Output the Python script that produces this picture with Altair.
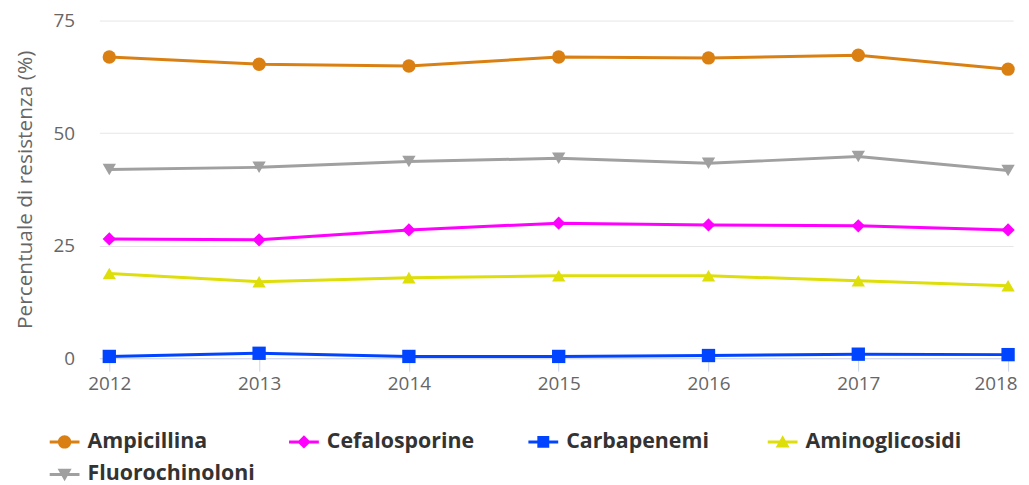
import altair as alt
import pandas as pd

years = [2012, 2013, 2014, 2015, 2016, 2017, 2018]
series = ["Ampicillina", "Cefalosporine", "Carbapenemi", "Aminoglicosidi", "Fluorochinoloni"]
ampicillina = [66.9, 65.3, 64.9, 66.9, 66.7, 67.3, 64.2]
cefalosporine = [26.5, 26.3, 28.5, 30.0, 29.6, 29.4, 28.5]
carbapenemi = [0.4, 1.1, 0.4, 0.4, 0.6, 0.9, 0.8]
aminoglicosidi = [18.8, 17.0, 17.9, 18.3, 18.3, 17.2, 16.1]
fluorochinoloni = [41.9, 42.4, 43.7, 44.4, 43.3, 44.8, 41.7]
colors = ["#da8012", "#ff00ff", "#0044ff", "#dede0a", "#a0a0a0"]
shapes = ["circle", "diamond", "square", "triangle-up", "triangle-down"]
legend_shapes = [
    "M-1,-0.1H1V0.1H-1Z M-0.45,0 A0.45,0.45 0 1,1 0.45,0 A0.45,0.45 0 1,1 -0.45,0Z",
    "M-1,-0.1H1V0.1H-1Z M0,-0.45 L0.45,0 L0,0.45 L-0.45,0Z",
    "M-1,-0.1H1V0.1H-1Z M-0.4,-0.4H0.4V0.4H-0.4Z",
    "M-1,-0.1H1V0.1H-1Z M0,-0.45 L0.47,0.38 L-0.47,0.38Z",
    "M-1,-0.1H1V0.1H-1Z M-0.47,-0.38H0.47 L0,0.45Z",
]

values = [ampicillina, cefalosporine, carbapenemi, aminoglicosidi, fluorochinoloni]
rows = []
for name, vals in zip(series, values):
    for y, v in zip(years, vals):
        rows.append({"Anno": y, "Valore": v, "Serie": name})
df = pd.DataFrame(rows)

x_enc = alt.X(
    "Anno:Q",
    scale=alt.Scale(domain=[2011.9337, 2018.0332], nice=False, zero=False),
    axis=alt.Axis(
        values=years, format="d", title=None, grid=False,
        domainColor="#ccd6eb", domainWidth=1, tickColor="#ccd6eb", tickSize=13,
        labelFont="Open Sans", labelFontSize=19, labelColor="#666666", labelPadding=3,
        labelFlush=7, labelFlushOffset=9,
    ),
)
y_enc = alt.Y(
    "Valore:Q",
    scale=alt.Scale(domain=[0, 75], nice=False),
    axis=alt.Axis(
        values=[0, 25, 50, 75], title="Percentuale di resistenza (%)",
        domain=False, ticks=False, gridColor="#e6e6e6", gridWidth=1,
        labelFont="Open Sans", labelFontSize=19, labelColor="#666666", labelPadding=25,
        titleFont="Open Sans", titleFontSize=21, titleFontWeight="normal",
        titleColor="#666666", titlePadding=18,
    ),
)
color_plain = alt.Color("Serie:N", scale=alt.Scale(domain=series, range=colors), legend=None)

lines = alt.Chart(df).mark_line(strokeWidth=3).encode(x=x_enc, y=y_enc, color=color_plain)
points = alt.Chart(df).mark_point(filled=True, size=180, opacity=1).encode(
    x=x_enc, y=y_enc, color=color_plain,
    shape=alt.Shape("Serie:N", scale=alt.Scale(domain=series, range=shapes), legend=None),
)

legend_props = dict(
    title=None, orient="none", legendX=-50, legendY=409, columns=4, direction="horizontal",
    symbolSize=900, symbolStrokeWidth=0, symbolOpacity=1,
    labelFont="Open Sans", labelFontWeight="bold", labelFontSize=21.5, labelColor="#333333",
    labelOffset=8, columnPadding=34, rowPadding=7, gridAlign="all", labelLimit=400,
)
legend_layer = alt.Chart(df).transform_filter("datum.Valore < -1000").mark_point(filled=True).encode(
    x=x_enc, y=y_enc,
    color=alt.Color("Serie:N", scale=alt.Scale(domain=series, range=colors), legend=alt.Legend(**legend_props)),
    shape=alt.Shape("Serie:N", scale=alt.Scale(domain=series, range=legend_shapes), legend=alt.Legend(**legend_props)),
)

chart = alt.layer(lines, points, legend_layer).resolve_scale(
    color="independent", shape="independent"
).properties(
    width=920, height=340,
    padding={"left": 92, "top": 11, "right": 8, "bottom": 126},
    autosize=alt.AutoSizeParams(type="none"),
).configure_view(stroke=None)

chart.save("out.html", embed_options={"renderer": "svg", "actions": False})
